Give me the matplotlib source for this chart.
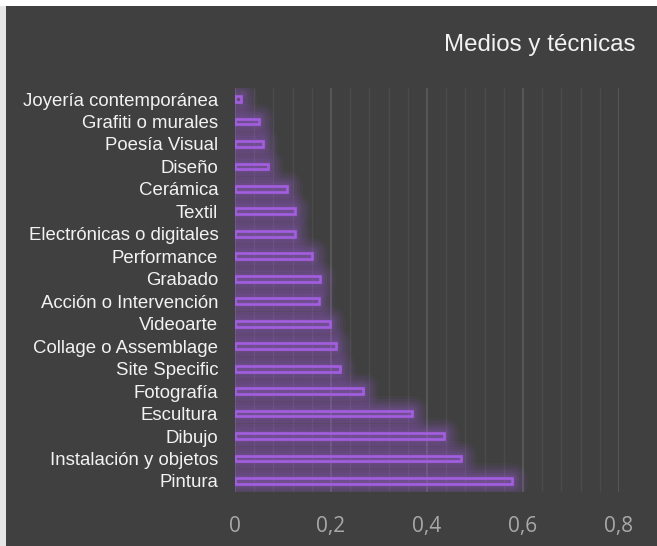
import matplotlib
matplotlib.use("Agg")
import matplotlib.pyplot as plt
from matplotlib.patches import Rectangle
from matplotlib.ticker import MultipleLocator, FuncFormatter

categories = [
    "Pintura", "Instalación y objetos", "Dibujo", "Escultura", "Fotografía",
    "Site Specific", "Collage o Assemblage", "Videoarte", "Acción o Intervención",
    "Grabado", "Performance", "Electrónicas o digitales", "Textil", "Cerámica",
    "Diseño", "Poesía Visual", "Grafiti o murales", "Joyería contemporánea",
]
values = [
    0.577, 0.471, 0.436, 0.368, 0.266,
    0.219, 0.210, 0.198, 0.176,
    0.177, 0.160, 0.126, 0.126, 0.108,
    0.069, 0.058, 0.049, 0.013,
]
x_ticks = [0, 0.2, 0.4, 0.6, 0.8]
title = "Medios y técnicas"

BG = "#404040"
PURPLE = "#a35ee0"

fig = plt.figure(figsize=(6.57, 5.46), dpi=100, facecolor="#ffffff")
# dark chart panel with a thin light frame
fig.patches.append(Rectangle((6 / 657, 0), 1, 1 - 6 / 546, transform=fig.transFigure,
                             facecolor=BG, edgecolor="none", zorder=-5))
fig.patches.append(Rectangle((0, 0), 6 / 657, 1 - 6 / 546, transform=fig.transFigure,
                             facecolor="#e6e6e6", edgecolor="none", zorder=-5))

ax = fig.add_axes([235 / 657, 1 - 492.2 / 546, (619 - 235) / 657, (492.2 - 87.8) / 546])
ax.set_facecolor(BG)
ax.patch.set_alpha(0)
ax.set_zorder(1)

y = list(range(len(categories)))
h = 0.26

# soft glow around each bar
for lw, a in [(22, 0.06), (18, 0.07), (14, 0.08), (10, 0.09), (7, 0.1), (4, 0.11)]:
    ax.barh(y, values, height=h, color="none", edgecolor=PURPLE, linewidth=lw,
            alpha=a, joinstyle="round", zorder=2)
ax.barh(y, values, height=h, color=PURPLE, alpha=0.18, edgecolor="none", zorder=2)
# hollow bars
ax.barh(y, values, height=h, color="none", edgecolor=PURPLE, linewidth=1.9, zorder=3)

ax.set_xlim(0, 0.8)
ax.set_ylim(-0.5, len(categories) - 0.5)
ax.xaxis.set_minor_locator(MultipleLocator(0.04))
ax.set_xticks(x_ticks)
ax.xaxis.set_major_formatter(FuncFormatter(lambda v, p: ("%g" % round(v, 2)).replace(".", ",")))
ax.grid(True, axis="x", which="major", color="#5a5a5a", linewidth=1.3, zorder=1)
ax.grid(True, axis="x", which="minor", color="#4b4b4b", linewidth=1.0, zorder=1)
ax.set_axisbelow(True)

ax.set_yticks(y)
ax.set_yticklabels(categories, fontsize=13.4, color="#f2f2f2", family="Liberation Sans")
for lab in ax.get_xticklabels():
    lab.set_family("Open Sans")
ax.tick_params(axis="x", which="both", length=0, pad=17, labelsize=15, labelcolor="#a8a8a8")
ax.tick_params(axis="y", length=0, pad=12)
for s in ax.spines.values():
    s.set_visible(False)

fig.text(636 / 657, 1 - 45 / 546, title, ha="right", va="center", fontsize=17.4,
         color="#f2f2f2", family="Liberation Sans")

fig.savefig("out.png", dpi=100, facecolor=fig.get_facecolor())
